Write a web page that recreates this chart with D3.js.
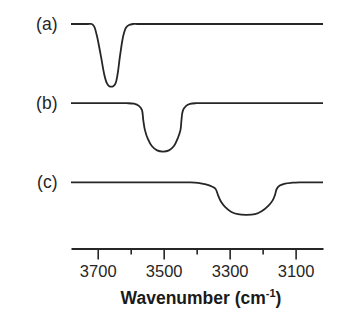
<!DOCTYPE html>
<html>
<head>
<meta charset="utf-8">
<script src="https://cdn.jsdelivr.net/npm/d3@7"></script>
<style>
  body { margin: 0; background: #fff; }
  svg { display: block; font-family: "Liberation Sans", Arial, Helvetica, sans-serif; }
</style>
</head>
<body>
<svg id="chart" width="345" height="321"></svg>
<script>
// spectra: wavenumber (cm-1) and band depth below baseline
var labels = ["(a)", "(b)", "(c)"];

var waveA  = [3781, 3730, 3718, 3711, 3703, 3691, 3680, 3672, 3665, 3659, 3653, 3646, 3640, 3632, 3622, 3614, 3605, 3593, 3580, 3017];
var depthA = [0,    0,    0,    0.03, 0.14, 0.39, 0.64, 0.75, 0.785, 0.79, 0.785, 0.75, 0.64, 0.39, 0.14, 0.044, 0.013, 0, 0, 0];

var waveB  = [3781, 3625, 3612, 3590, 3575, 3566, 3562, 3557, 3548, 3536, 3520, 3502, 3484, 3469, 3457, 3449, 3446, 3442, 3432, 3420, 3402, 3390, 3017];
var depthB = [0,    0,    0,    0.006, 0.034, 0.085, 0.21, 0.337, 0.451, 0.54, 0.596, 0.611, 0.596, 0.54, 0.439, 0.337, 0.21, 0.097, 0.034, 0.009, 0, 0, 0];

var waveC  = [3781, 3435, 3420, 3396, 3372, 3354, 3343, 3335, 3326, 3314, 3296, 3275, 3249, 3223, 3202, 3183, 3170, 3163, 3157, 3148, 3132, 3111, 3087, 3075, 3017];
var depthC = [0,    0,    0,    0.006, 0.025, 0.051, 0.08, 0.164, 0.245, 0.31, 0.37, 0.402, 0.41, 0.4, 0.36, 0.295, 0.23, 0.164, 0.08, 0.04, 0.015, 0.004, 0, 0, 0];

var majorTicks = [3700, 3500, 3300, 3100];
var minorTicks = [3600, 3400, 3200];

var spectra = [
  {label: labels[0], wave: waveA, depth: depthA},
  {label: labels[1], wave: waveB, depth: depthB},
  {label: labels[2], wave: waveC, depth: depthC}
];

var svg = d3.select("#chart");
var ink = "#262626";

var x = d3.scaleLinear().domain([3781, 3017]).range([71, 323]);
// each trace sits one unit below the previous one
var y = d3.scaleLinear().domain([0, 3]).range([24, 24 + 3 * 79.2]);

var line = d3.line().curve(d3.curveCatmullRom.alpha(0.5));

spectra.forEach(function(s, i) {
  var pts = s.wave.map(function(w, k) {
    return [x(w), y(i + s.depth[k])];
  });
  svg.append("path")
    .attr("d", line(pts))
    .attr("fill", "none")
    .attr("stroke", ink)
    .attr("stroke-width", 1.8);

  svg.append("text")
    .attr("x", 57.5)
    .attr("y", y(i) + 5.5)
    .attr("text-anchor", "end")
    .attr("font-size", 17.5)
    .attr("fill", ink)
    .text(s.label);
});

// minor ticks first, major axis on top
var minorAxis = d3.axisBottom(x).tickValues(minorTicks).tickSize(6).tickFormat("");
var majorAxis = d3.axisBottom(x).tickValues(majorTicks).tickSize(11)
  .tickSizeOuter(0).tickPadding(6).tickFormat(d3.format("d"));

var axisY = 248.5;
var gMinor = svg.append("g").attr("transform", "translate(0," + axisY + ")").call(minorAxis);
gMinor.select(".domain").remove();
var gMajor = svg.append("g").attr("transform", "translate(0," + axisY + ")").call(majorAxis);

svg.selectAll(".tick line").attr("stroke", ink).attr("stroke-width", 1.6);
gMajor.select(".domain").attr("stroke", ink).attr("stroke-width", 2);
gMajor.selectAll("text")
  .attr("font-size", 16.5)
  .attr("font-family", "\"Liberation Sans\", Arial, sans-serif")
  .attr("fill", ink);

var title = svg.append("text")
  .attr("x", 201)
  .attr("y", 304)
  .attr("text-anchor", "middle")
  .attr("font-size", 17.5)
  .attr("font-weight", "bold")
  .attr("fill", "#1a1a1a");
title.append("tspan").text("Wavenumber (cm");
title.append("tspan").attr("font-size", 11).attr("dy", -7).text("-1");
title.append("tspan").attr("dy", 7).text(")");
</script>
</body>
</html>
